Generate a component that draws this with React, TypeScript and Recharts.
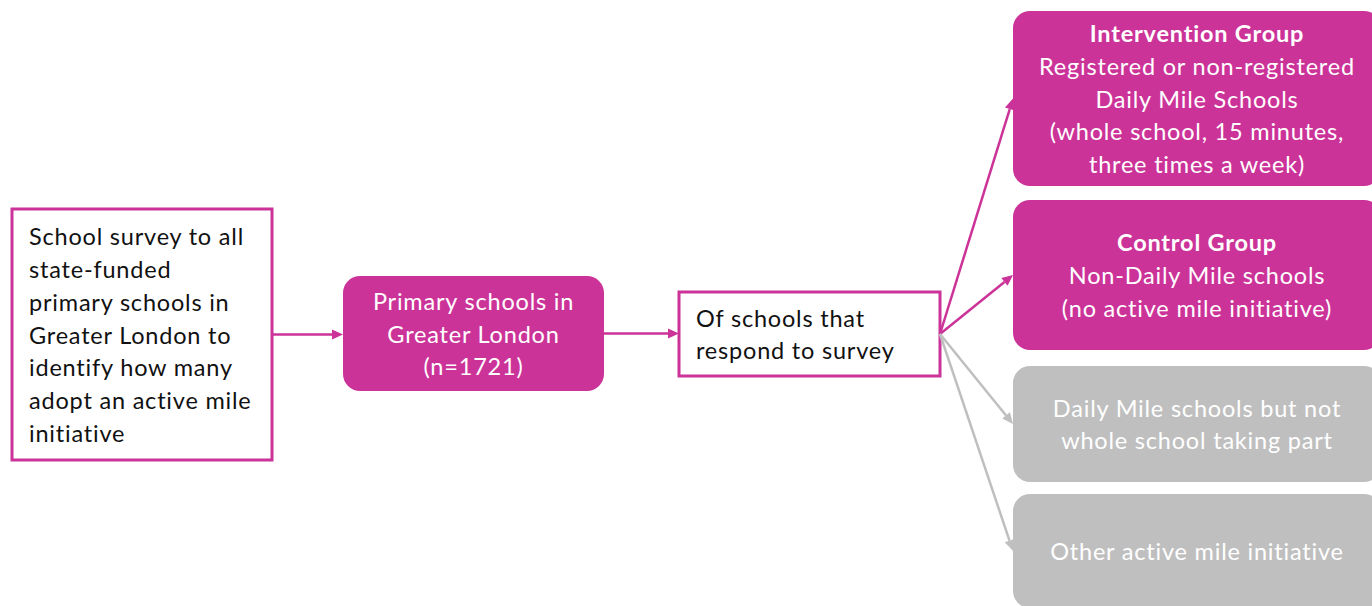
import React from "react";
import {
  ScatterChart,
  Scatter,
  XAxis,
  YAxis,
  ReferenceArea,
  ReferenceLine,
} from "recharts";

// --- flowchart content ---
const NODE_IDS = ["survey", "primary", "respond", "intervention", "control", "partial", "other"];

const NODE_LINES: string[][] = [
  [
    "School survey to all",
    "state-funded",
    "primary schools in",
    "Greater London to",
    "identify how many",
    "adopt an active mile",
    "initiative",
  ],
  ["Primary schools in", "Greater London", "(n=1721)"],
  ["Of schools that", "respond to survey"],
  [
    "Intervention Group",
    "Registered or non-registered",
    "Daily Mile Schools",
    "(whole school, 15 minutes,",
    "three times a week)",
  ],
  ["Control Group", "Non-Daily Mile schools", "(no active mile initiative)"],
  ["Daily Mile schools but not", "whole school taking part"],
  ["Other active mile initiative"],
];

// "outline" = white box with magenta border, "fill" = magenta, "muted" = grey
const NODE_KIND = ["outline", "fill", "outline", "fill", "fill", "muted", "muted"];
const NODE_HAS_TITLE = [false, false, false, true, true, false, false];

const EDGE_FROM = ["survey", "primary", "respond", "respond", "respond", "respond"];
const EDGE_TO = ["primary", "respond", "intervention", "control", "partial", "other"];

// --- layout (pixel space of the 1372x606 canvas) ---
const W = 1372;
const H = 606;
const LAYOUT: Record<string, { x: number; y: number; w: number; h: number }> = {
  survey: { x: 12, y: 209, w: 260, h: 251 },
  primary: { x: 343, y: 276, w: 261, h: 115 },
  respond: { x: 679, y: 292, w: 261, h: 84 },
  intervention: { x: 1013, y: 11, w: 368, h: 175 },
  control: { x: 1013, y: 200, w: 368, h: 150 },
  partial: { x: 1013, y: 366, w: 368, h: 116 },
  other: { x: 1013, y: 494, w: 368, h: 114 },
};

const MAGENTA = "#CC3399";
const GREY = "#BFBFBF";
const INK = "#111111";
const FONT = "Lato, 'Open Sans', sans-serif";
const FS = 23.5;
const LH = 32.8;

const CENTERS = NODE_IDS.map((id) => ({
  cx: LAYOUT[id].x + LAYOUT[id].w / 2,
  cy: LAYOUT[id].y + LAYOUT[id].h / 2,
}));

const NodeBox = (props: any) => {
  const { x, y, width, height, idx } = props;
  const kind = NODE_KIND[idx];
  const lines = NODE_LINES[idx];
  const leftAlign = kind === "outline";
  const fill = kind === "outline" ? "#fff" : kind === "fill" ? MAGENTA : GREY;
  const textFill = kind === "outline" ? INK : "#fff";
  const cy = y + height / 2;
  const first = cy - ((lines.length - 1) * LH) / 2;
  return (
    <g>
      {kind === "outline" ? (
        <rect x={x} y={y} width={width} height={height} fill={fill} stroke={MAGENTA} strokeWidth={3} />
      ) : (
        <rect x={x} y={y} width={width} height={height} rx={17} ry={17} fill={fill} />
      )}
      {lines.map((ln, i) => (
        <text
          key={i}
          x={leftAlign ? x + 17 : x + width / 2}
          y={first + i * LH}
          dominantBaseline="central"
          textAnchor={leftAlign ? "start" : "middle"}
          fill={textFill}
          fontFamily={FONT}
          fontSize={FS}
          letterSpacing={0.8}
          fontWeight={NODE_HAS_TITLE[idx] && i === 0 ? 700 : 400}
        >
          {ln}
        </text>
      ))}
    </g>
  );
};

const Arrow = (props: any) => {
  const { x1, y1, x2, y2, color } = props;
  const a = Math.atan2(y2 - y1, x2 - x1);
  const len = 11;
  const half = 5;
  const bx = x2 - len * Math.cos(a);
  const by = y2 - len * Math.sin(a);
  const px = -Math.sin(a) * half;
  const py = Math.cos(a) * half;
  return (
    <g>
      <line x1={x1} y1={y1} x2={bx} y2={by} stroke={color} strokeWidth={2.5} />
      <polygon points={`${x2},${y2} ${bx + px},${by + py} ${bx - px},${by - py}`} fill={color} />
    </g>
  );
};

export default function App() {
  return (
    <div style={{ width: W, height: H, background: "#fff" }}>
      <style>{`body{margin:0} svg{display:block}`}</style>
      <ScatterChart width={W} height={H} margin={{ top: 0, right: 0, bottom: 0, left: 0 }}>
        <XAxis type="number" dataKey="cx" domain={[0, W]} hide allowDataOverflow />
        <YAxis type="number" dataKey="cy" domain={[0, H]} reversed hide allowDataOverflow />
        {EDGE_FROM.map((from, i) => {
          const s = LAYOUT[from];
          const t = LAYOUT[EDGE_TO[i]];
          const sy = s.y + s.h / 2;
          const ty = i < 2 ? sy : t.y + t.h / 2;
          const color = NODE_KIND[NODE_IDS.indexOf(EDGE_TO[i])] === "muted" ? GREY : MAGENTA;
          return (
            <ReferenceLine
              key={`e${i}`}
              segment={[
                { x: s.x + s.w, y: sy },
                { x: t.x, y: ty },
              ]}
              ifOverflow="visible"
              shape={(p: any) => <Arrow {...p} color={color} />}
            />
          );
        })}
        {NODE_IDS.map((id, i) => {
          const b = LAYOUT[id];
          return (
            <ReferenceArea
              key={id}
              x1={b.x}
              x2={b.x + b.w}
              y1={b.y}
              y2={b.y + b.h}
              ifOverflow="visible"
              shape={(p: any) => <NodeBox {...p} idx={i} />}
            />
          );
        })}
        <Scatter data={CENTERS} isAnimationActive={false} shape={() => <g />} />
      </ScatterChart>
    </div>
  );
}
